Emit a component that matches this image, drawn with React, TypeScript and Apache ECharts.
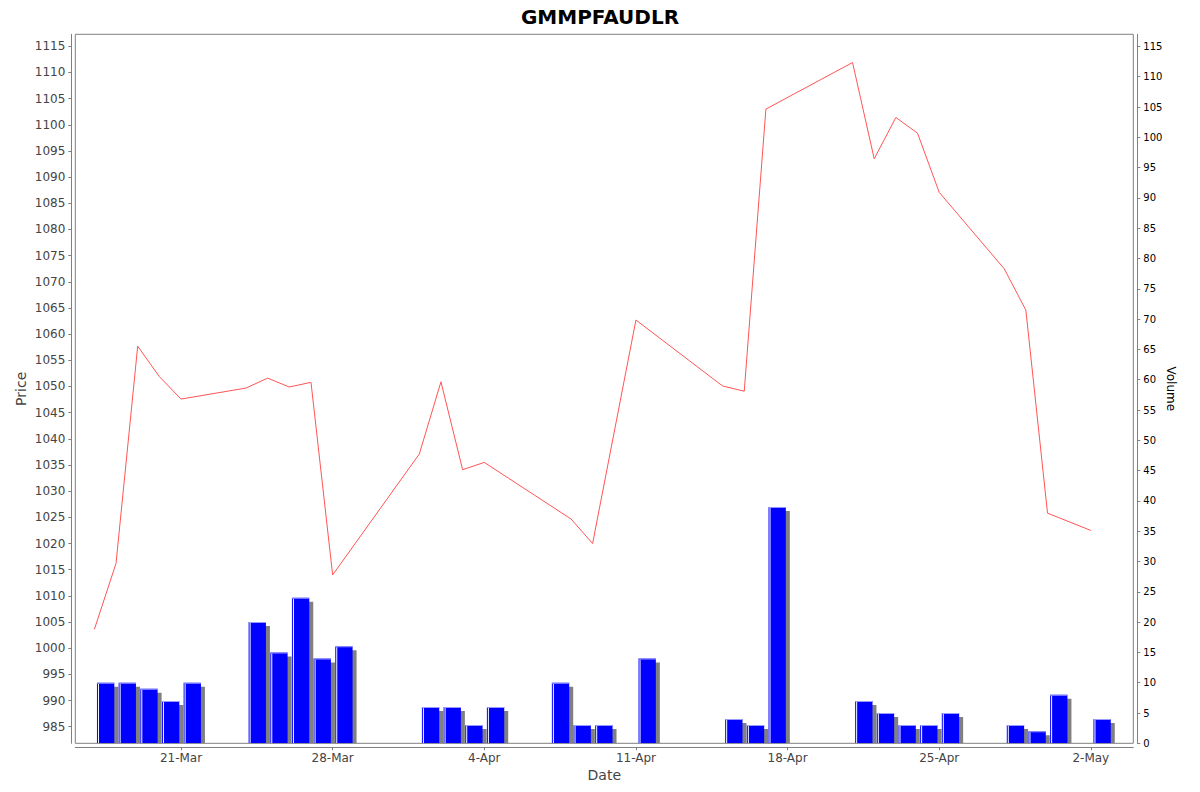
import React, { useEffect, useRef } from "react";
import * as echarts from "echarts";

// ---- data ----
const tradeDates = [
  "2014-03-17", "2014-03-18", "2014-03-19", "2014-03-20", "2014-03-21",
  "2014-03-24", "2014-03-25", "2014-03-26", "2014-03-27", "2014-03-28",
  "2014-04-01", "2014-04-02", "2014-04-03", "2014-04-04",
  "2014-04-07", "2014-04-08", "2014-04-09", "2014-04-11",
  "2014-04-15", "2014-04-16", "2014-04-17",
  "2014-04-21", "2014-04-22", "2014-04-23", "2014-04-24", "2014-04-25",
  "2014-04-28", "2014-04-29", "2014-04-30", "2014-05-02",
];

const closePrices: (number | null)[] = [
  1003.6, 1016.2, 1057.7, 1051.9, 1047.6,
  1049.7, 1051.6, 1049.9, 1050.8, 1014.0,
  1037.1, 1050.9, 1034.1, 1035.5,
  null, 1024.7, 1020.0, 1062.7,
  1050.1, 1049.1, 1103.0,
  1111.9, 1093.5, 1101.4, 1098.4, 1087.1,
  1072.5, 1064.6, 1025.8, 1022.5,
];

const volumes = [
  10, 10, 9, 7, 10,
  20, 15, 24, 14, 16,
  6, 6, 3, 6,
  10, 3, 3, 14,
  4, 3, 39,
  7, 5, 3, 3, 5,
  3, 2, 8, 4,
];

const dateTickValues = [
  "2014-03-21", "2014-03-28", "2014-04-04", "2014-04-11",
  "2014-04-18", "2014-04-25", "2014-05-02",
];
const dateTickLabels = ["21-Mar", "28-Mar", "4-Apr", "11-Apr", "18-Apr", "25-Apr", "2-May"];

const priceTicks: number[] = [];
for (let v = 985; v <= 1115; v += 5) priceTicks.push(v);
const volumeTicks: number[] = [];
for (let v = 0; v <= 115; v += 5) volumeTicks.push(v);

const DAY = 86400000;
const toTs = (s: string) => {
  const [y, m, d] = s.split("-").map(Number);
  return Date.UTC(y, m - 1, d);
};

export default function App() {
  const ref = useRef<HTMLDivElement>(null);

  useEffect(() => {
    if (!ref.current) return;
    const chart = echarts.init(ref.current, null, { renderer: "svg" });

    const tickTs = dateTickValues.map(toTs);
    const priceData = tradeDates.map((d, i) => [toTs(d), closePrices[i]]);
    const volData = tradeDates.map((d, i) => [toTs(d), volumes[i]]);

    const xMin = toTs("2014-03-21") - 4.88 * DAY;
    const xMax = toTs("2014-05-02") + 1.96 * DAY;

    const font = "DejaVu Sans";

    chart.setOption({
      animation: false,
      backgroundColor: "#ffffff",
      textStyle: { fontFamily: font },
      title: {
        text: "GMMPFAUDLR",
        left: "center",
        top: 2,
        textStyle: { fontFamily: font, fontSize: 20, fontWeight: "bold", color: "#000000" },
      },
      grid: {
        left: 75.3,
        right: 66.7,
        top: 34.3,
        bottom: 48.7,
        show: true,
        borderColor: "#808080",
        borderWidth: 1,
        backgroundColor: "#ffffff",
      },
      xAxis: {
        type: "value",
        min: xMin,
        max: xMax,
        offset: 4,
        name: "Date",
        nameLocation: "middle",
        nameGap: 21,
        nameMoveOverlap: false,
        nameTextStyle: { fontFamily: font, fontSize: 14, color: "#444444" },
        axisLine: { show: true, onZero: false, lineStyle: { color: "#808080" } },
        axisTick: { show: true, length: 3, lineStyle: { color: "#808080" }, customValues: tickTs },
        axisLabel: {
          fontFamily: font,
          fontSize: 12,
          color: "#444444",
          margin: 5,
          customValues: tickTs,
          formatter: (v: number) => {
            const idx = tickTs.indexOf(v);
            return idx >= 0 ? dateTickLabels[idx] : "";
          },
        },
        splitLine: { show: false },
      },
      yAxis: [
        {
          type: "value",
          position: "left",
          min: 981.83,
          max: 1117.29,
          offset: 4,
          name: "Price",
          nameLocation: "middle",
          nameGap: 43,
          nameMoveOverlap: false,
          nameTextStyle: { fontFamily: font, fontSize: 14, color: "#444444" },
          axisLine: { show: true, lineStyle: { color: "#808080" } },
          axisTick: { show: true, length: 3, lineStyle: { color: "#808080" }, customValues: priceTicks },
          axisLabel: {
            fontFamily: font,
            fontSize: 12,
            color: "#444444",
            margin: 6,
            customValues: priceTicks,
            formatter: (v: number) => String(v),
          },
          splitLine: { show: false },
        },
        {
          type: "value",
          position: "right",
          min: 0,
          max: 117,
          offset: 4,
          name: "Volume",
          nameLocation: "middle",
          nameRotate: -90,
          nameGap: 28,
          nameMoveOverlap: false,
          nameTextStyle: { fontFamily: font, fontSize: 12, color: "#000000" },
          axisLine: { show: true, lineStyle: { color: "#808080" } },
          axisTick: { show: true, length: 3, lineStyle: { color: "#808080" }, customValues: volumeTicks },
          axisLabel: {
            fontFamily: font,
            fontSize: 10,
            color: "#000000",
            margin: 6,
            customValues: volumeTicks,
            formatter: (v: number) => String(v),
          },
          splitLine: { show: false },
        },
      ],
      series: [
        {
          type: "custom",
          name: "Volume",
          xAxisIndex: 0,
          yAxisIndex: 1,
          clip: true,
          encode: { x: 0, y: 1 },
          data: volData,
          z: 2,
          renderItem: (params: any, api: any) => {
            const t = api.value(0);
            const v = api.value(1);
            const pTop = api.coord([t + 0.12 * DAY, v]);
            const pBase = api.coord([t + 0.92 * DAY, 0]);
            const x = pTop[0];
            const y = pTop[1];
            const w = pBase[0] - pTop[0];
            const h = pBase[1] - pTop[1];
            return {
              type: "group",
              children: [
                {
                  type: "rect",
                  shape: { x: x + 4, y: y + 4, width: w, height: Math.max(h - 4, 0) },
                  style: { fill: "#808080" },
                },
                {
                  type: "rect",
                  shape: { x, y, width: w, height: h },
                  style: { fill: "#0000ff" },
                },
                {
                  type: "rect",
                  shape: { x: x + 1, y: y + 1, width: 1, height: h - 1 },
                  style: { fill: "#ffffff" },
                },
                {
                  type: "rect",
                  shape: { x, y, width: w, height: 1 },
                  style: { fill: "#9a9aff" },
                },
              ],
            };
          },
        },
        {
          type: "line",
          name: "Price",
          xAxisIndex: 0,
          yAxisIndex: 0,
          data: priceData,
          showSymbol: false,
          symbol: "none",
          connectNulls: true,
          lineStyle: { color: "#ff5555", width: 1 },
          z: 3,
        },
      ],
    });

    return () => chart.dispose();
  }, []);

  return (
    <div
      ref={ref}
      style={{ position: "absolute", left: 0, top: 0, width: 1200, height: 792 }}
    />
  );
}
